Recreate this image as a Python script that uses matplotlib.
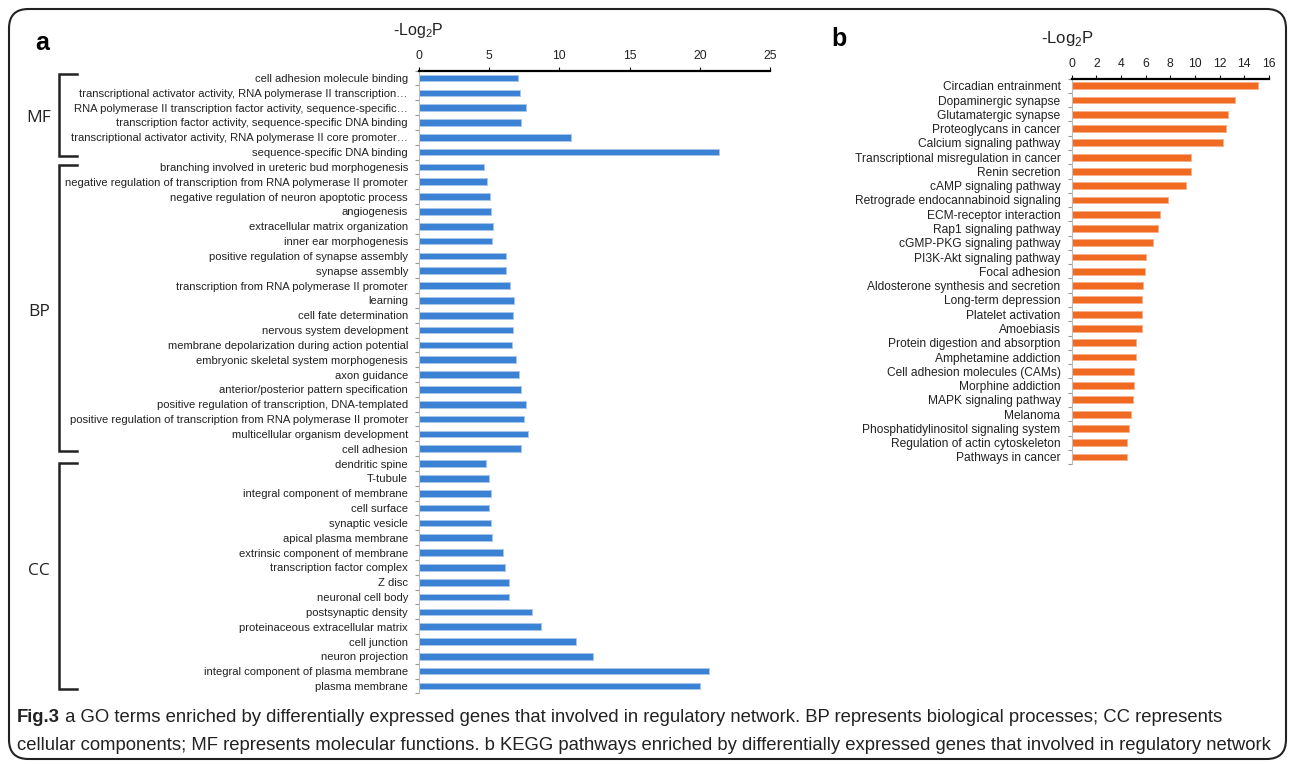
import matplotlib
matplotlib.use('Agg')
import matplotlib.pyplot as plt
from matplotlib.patches import FancyBboxPatch
from matplotlib.lines import Line2D

# ---------------- data ----------------
go_terms = [
    "cell adhesion molecule binding",
    "transcriptional activator activity, RNA polymerase II transcription…",
    "RNA polymerase II transcription factor activity, sequence-specific…",
    "transcription factor activity, sequence-specific DNA binding",
    "transcriptional activator activity, RNA polymerase II core promoter…",
    "sequence-specific DNA binding",
    "branching involved in ureteric bud morphogenesis",
    "negative regulation of transcription from RNA polymerase II promoter",
    "negative regulation of neuron apoptotic process",
    "angiogenesis",
    "extracellular matrix organization",
    "inner ear morphogenesis",
    "positive regulation of synapse assembly",
    "synapse assembly",
    "transcription from RNA polymerase II promoter",
    "learning",
    "cell fate determination",
    "nervous system development",
    "membrane depolarization during action potential",
    "embryonic skeletal system morphogenesis",
    "axon guidance",
    "anterior/posterior pattern specification",
    "positive regulation of transcription, DNA-templated",
    "positive regulation of transcription from RNA polymerase II promoter",
    "multicellular organism development",
    "cell adhesion",
    "dendritic spine",
    "T-tubule",
    "integral component of membrane",
    "cell surface",
    "synaptic vesicle",
    "apical plasma membrane",
    "extrinsic component of membrane",
    "transcription factor complex",
    "Z disc",
    "neuronal cell body",
    "postsynaptic density",
    "proteinaceous extracellular matrix",
    "cell junction",
    "neuron projection",
    "integral component of plasma membrane",
    "plasma membrane",
]
go_values = [
    7.07, 7.17, 7.60, 7.30, 10.80, 21.40,
    4.60, 4.86, 5.04, 5.14, 5.29, 5.18, 6.23, 6.23, 6.49, 6.74,
    6.67, 6.67, 6.63, 6.88, 7.14, 7.25, 7.60, 7.46, 7.75, 7.25,
    4.78, 5.00, 5.11, 5.00, 5.14, 5.18, 6.01, 6.12, 6.38, 6.38,
    8.04, 8.70, 11.16, 12.39, 20.65, 20.00,
]
go_groups = ["MF", "BP", "CC"]
go_group_sizes = [6, 20, 16]
go_ticks = [0, 5, 10, 15, 20, 25]

kegg_terms = [
    "Circadian entrainment", "Dopaminergic synapse", "Glutamatergic synapse",
    "Proteoglycans in cancer", "Calcium signaling pathway",
    "Transcriptional misregulation in cancer", "Renin secretion",
    "cAMP signaling pathway", "Retrograde endocannabinoid signaling",
    "ECM-receptor interaction", "Rap1 signaling pathway",
    "cGMP-PKG signaling pathway", "PI3K-Akt signaling pathway",
    "Focal adhesion", "Aldosterone synthesis and secretion",
    "Long-term depression", "Platelet activation", "Amoebiasis",
    "Protein digestion and absorption", "Amphetamine addiction",
    "Cell adhesion molecules (CAMs)", "Morphine addiction",
    "MAPK signaling pathway", "Melanoma",
    "Phosphatidylinositol signaling system",
    "Regulation of actin cytoskeleton", "Pathways in cancer",
]
kegg_values = [
    15.08, 13.27, 12.68, 12.49, 12.30, 9.65, 9.65, 9.24, 7.84, 7.16,
    6.97, 6.59, 6.00, 5.92, 5.81, 5.73, 5.73, 5.68, 5.24, 5.19,
    5.05, 5.05, 5.00, 4.78, 4.65, 4.46, 4.46,
]
kegg_ticks = [0, 2, 4, 6, 8, 10, 12, 14, 16]

caption_bold = "Fig.3"
caption_line1 = (" a GO terms enriched by differentially expressed genes that involved in regulatory "
                 "network. BP represents biological processes; CC represents")
caption_line2 = ("cellular components; MF represents molecular functions. b KEGG pathways enriched by "
                 "differentially expressed genes that involved in regulatory network")

# ---------------- layout helpers ----------------
W, H = 1292, 764
fig = plt.figure(figsize=(W / 100, H / 100), dpi=100)
fig.patch.set_facecolor('white')

NARROW = ['Liberation Sans Narrow', 'Liberation Sans', 'DejaVu Sans']
ARIAL = ['Liberation Sans', 'DejaVu Sans']

def fx(px):
    return px / W

def fy(py):
    return 1 - py / H

def make_axes(left, right, top, bottom):
    return fig.add_axes([fx(left), fy(bottom), fx(right) - fx(left), fy(top) - fy(bottom)])

def style_axes(ax, n, ticks, labels, tickfont, labelfont, fsize, tfsize):
    ax.set_ylim(n - 0.5, -0.5)
    ax.set_xlim(ticks[0], ticks[-1])
    ax.set_xticks(ticks)
    ax.xaxis.tick_top()
    ax.set_yticks(range(n))
    ax.set_yticklabels(labels, family=labelfont, fontsize=fsize, color='#222222')
    ax.set_yticks([i + 0.5 for i in range(-1, n)], minor=True)
    ax.tick_params(axis='y', which='major', length=0, pad=8)
    ax.tick_params(axis='y', which='minor', length=3, color='#999999', width=0.8, direction='out')
    ax.tick_params(axis='x', which='major', length=3, width=0.8, color='black', pad=3,
                   labelsize=tfsize, direction='out')
    for lab in ax.get_xticklabels():
        lab.set_family(tickfont)
        lab.set_color('#222222')
    ax.spines['top'].set_linewidth(1.6)
    ax.spines['top'].set_color('black')
    ax.spines['left'].set_color('#bbbbbb')
    ax.spines['left'].set_linewidth(0.8)
    ax.spines['right'].set_visible(False)
    ax.spines['bottom'].set_visible(False)
    ax.set_facecolor('none')

# ---------------- panel a ----------------
axa = make_axes(419, 770, 70.6, 693.4)
axa.barh(range(len(go_values)), go_values, height=0.45, color='#3b82d4',
         edgecolor='#a6c6ec', linewidth=0.7)
style_axes(axa, len(go_values), go_ticks, go_terms, NARROW, NARROW, 8.1, 8.8)

# ---------------- panel b ----------------
axb = make_axes(1071.7, 1269, 78.6, 464.1)
axb.barh(range(len(kegg_values)), kegg_values, height=0.48, color='#f06a22',
         edgecolor='#f7b08a', linewidth=0.7)
style_axes(axb, len(kegg_values), kegg_ticks, kegg_terms, ARIAL, ARIAL, 8.65, 8.8)

# ---------------- titles / letters ----------------
fig.text(fx(418), fy(31), r'-Log$_{\mathregular{2}}$P', ha='center', va='center',
         fontsize=11.5, family=NARROW, color='#222222')
fig.text(fx(1067), fy(39), r'-Log$_{\mathregular{2}}$P', ha='center', va='center',
         fontsize=12, family=ARIAL, color='#222222')
fig.text(fx(42), fy(43), 'a', ha='center', va='center', fontsize=18, weight='bold',
         family=ARIAL, color='black')
fig.text(fx(839), fy(39), 'b', ha='center', va='center', fontsize=18, weight='bold',
         family=ARIAL, color='black')

# ---------------- brackets ----------------
brackets = [(74, 156, 118), (165, 451, 312), (463, 689, 571)]
for (top, bot, mid), name in zip(brackets, go_groups):
    xs = [fx(77), fx(58.5), fx(58.5), fx(77)]
    ys = [fy(top), fy(top), fy(bot), fy(bot)]
    fig.add_artist(Line2D(xs, ys, color='#222222', linewidth=1.8,
                          solid_joinstyle='miter'))
    fig.text(fx(39), fy(mid), name, ha='center', va='center', fontsize=12.5,
             family=['Open Sans', 'Liberation Sans'], color='#222222')

# ---------------- caption ----------------
cap_font = NARROW
cap_size = 13.3
t_bold = fig.text(fx(17), fy(718), caption_bold, ha='left', va='center', fontsize=cap_size,
                  weight='bold', family=cap_font, color='#222222')
renderer = fig.canvas.get_renderer()
bb = t_bold.get_window_extent(renderer=renderer)
fig.text(bb.x1 / W, fy(718), caption_line1, ha='left', va='center', fontsize=cap_size,
         family=cap_font, color='#222222')
fig.text(fx(17), fy(746), caption_line2, ha='left', va='center', fontsize=cap_size,
         family=cap_font, color='#222222')

# ---------------- frame ----------------
frame = FancyBboxPatch((fx(9), fy(759)), fx(1286) - fx(9), fy(9) - fy(759),
                       boxstyle='round,pad=0,rounding_size=0.015',
                       transform=fig.transFigure, facecolor='none',
                       edgecolor='#222222', linewidth=1.5, mutation_aspect=W / H)
fig.add_artist(frame)

fig.savefig('out.png', dpi=100, facecolor='white')
